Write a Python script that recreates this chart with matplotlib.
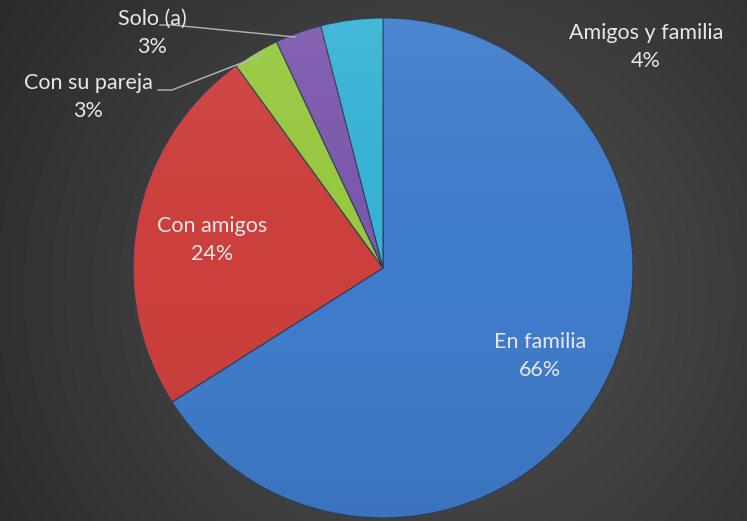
import numpy as np
import matplotlib.pyplot as plt
from matplotlib.patches import Circle

categories = ["En familia", "Con amigos", "Con su pareja", "Solo (a)", "Amigos y familia"]
values = [66, 24, 3, 3, 4]
colors = ["#3f7ccc", "#cc3f3c", "#97c93f", "#7c57ad", "#35b3d6"]

W, H = 747, 521


def main() -> None:
    fig = plt.figure(figsize=(W / 100, H / 100), dpi=100)
    ax = fig.add_axes([0, 0, 1, 1])

    # radial dark background
    yy, xx = np.mgrid[0:H, 0:W]
    d = np.hypot(xx - 440, yy - 230) / 520
    bg = np.clip(0.32 - 0.15 * d, 0, 1)
    ax.imshow(np.dstack([bg, bg, bg]), extent=(0, W, 0, H), origin="lower", zorder=0)

    cx, cy, r = 383, 253, 250
    wedges, _ = ax.pie(values, colors=colors, startangle=90, counterclock=False,
                       center=(cx, cy), radius=r, frame=True,
                       wedgeprops=dict(edgecolor="#2c3e55", linewidth=0.8))
    ax.set_xlim(0, W)
    ax.set_ylim(0, H)
    ax.axis("off")

    # soft shading over the pie (lighter top, darker bottom)
    shade = np.linspace(1, 0, 200)[:, None] * np.ones((1, 200))
    rgba = np.zeros((200, 200, 4))
    rgba[..., :3] = shade[..., None]
    rgba[..., 3] = np.abs(shade - 0.5) * 0.16
    im = ax.imshow(rgba, extent=(cx - r, cx + r, cy - r, cy + r), origin="upper", zorder=3)
    im.set_clip_path(Circle((cx, cy), r, transform=ax.transData))

    txt = dict(color="#e8e8e8", fontsize=15.5, family="Lato", ha="center", va="center",
               linespacing=1.55, zorder=5)
    pct = [f"{v}%" for v in values]
    pos = [(540, H - 356), (212, H - 240), (88, H - 97), (152, H - 33), (646, H - 47)]
    for name, p, (x, y) in zip(categories, pct, pos):
        ax.text(x, y, f"{name}\n{p}", **txt)

    # leader lines
    ax.plot([160, 172, 295], [H - 25, H - 25, H - 37], color="#b5b5b5", lw=1, zorder=4)
    ax.plot([158, 172, 262], [H - 90, H - 90, H - 55], color="#b5b5b5", lw=1, zorder=4)

    fig.savefig("out.png", dpi=100, facecolor="#333333")


if __name__ == "__main__":
    main()
